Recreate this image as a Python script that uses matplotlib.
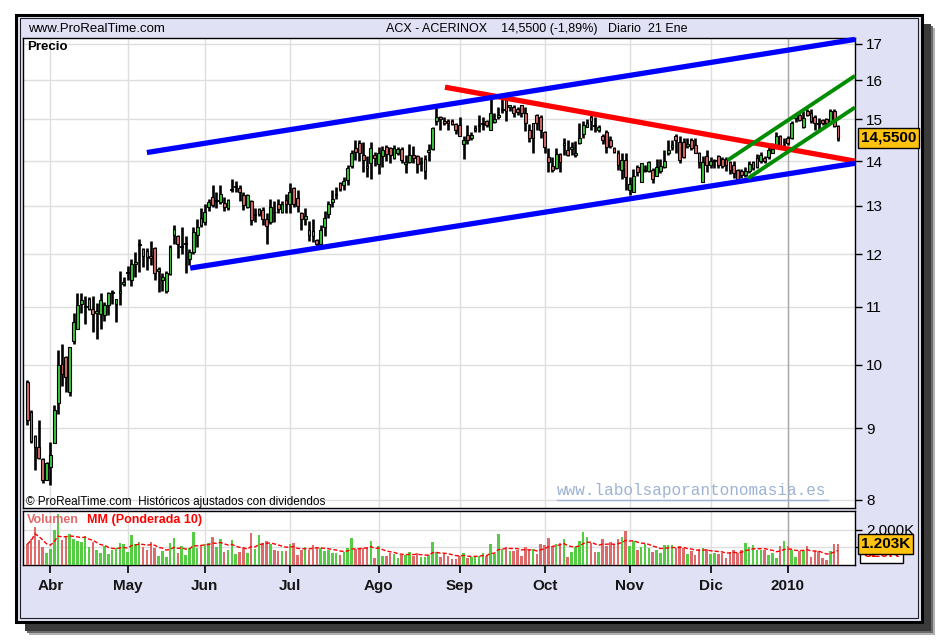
import numpy as np
import pandas as pd
import matplotlib
matplotlib.use('Agg')
import matplotlib.pyplot as plt
from matplotlib.patches import Rectangle
from matplotlib.lines import Line2D

plt.rcParams['font.family'] = ['Liberation Sans', 'DejaVu Sans']

holidays = ['2009-04-10', '2009-04-13', '2009-05-01', '2009-12-24',
            '2009-12-25', '2009-12-31', '2010-01-01']

opens = [9.72, 9.25, 8.88, 8.73, 8.55, 8.27, 8.45, 8.79, 9.38, 10.01,
         10.13, 9.55, 10.40, 10.60, 11.05, 11.00, 10.97, 10.97, 10.90, 10.88,
         10.85, 11.03, 11.25, 11.05, 11.25, 11.43, 11.63, 11.50, 11.82, 12.18,
         12.10, 12.07, 11.97, 12.12, 11.68, 11.50, 11.30, 11.62, 12.40, 12.37,
         12.15, 12.20, 11.90, 12.05, 12.40, 12.75, 12.65, 12.97, 13.20, 13.10,
         13.08, 13.06, 12.95, 13.35, 13.42, 13.40, 13.23, 12.97, 13.10, 12.80,
         12.82, 12.92, 12.73, 12.65, 12.88, 13.05, 12.88, 13.12, 13.05, 13.40,
         13.17, 12.85, 12.72, 12.50, 12.48, 12.28, 12.20, 12.55, 12.82, 13.08,
         13.23, 13.50, 13.45, 13.57, 13.88, 14.30, 14.42, 14.15, 13.88, 13.95,
         14.15, 13.94, 14.13, 14.34, 14.30, 14.07, 14.20, 14.28, 13.93, 13.97,
         14.15, 14.12, 13.95, 13.78, 14.22, 14.28, 14.95, 15.05, 14.95, 14.97,
         14.95, 14.88, 14.87, 14.40, 14.62, 14.55, 14.73, 14.84, 14.88, 14.95,
         14.75, 14.93, 15.05, 15.24, 15.50, 15.30, 15.30, 15.25, 15.35, 15.15,
         14.75, 14.55, 15.12, 15.05, 14.70, 14.10, 13.88, 13.85, 14.17, 14.38,
         14.25, 14.28, 14.15, 14.42, 14.65, 14.82, 15.05, 14.86, 14.73, 14.60,
         14.68, 14.50, 14.30, 14.18, 13.80, 14.02, 13.35, 13.30, 13.87, 13.53,
         13.77, 13.78, 13.80, 13.67, 13.77, 13.87, 14.18, 14.33, 14.60, 14.45,
         14.45, 14.35, 14.50, 14.38, 14.20, 13.53, 14.13, 13.90, 14.00, 14.12,
         14.05, 14.05, 13.97, 13.90, 13.80, 13.78, 13.68, 13.78, 13.85, 13.87,
         14.00, 14.08, 14.10, 14.20, 14.38, 14.60, 14.44, 14.55, 14.55, 15.03,
         15.12, 14.80, 15.20, 15.15, 15.05, 14.90, 14.98, 15.00, 14.90, 15.20,
         14.83]

highs = [9.75, 9.27, 8.90, 9.12, 8.57, 8.52, 8.80, 9.35, 10.25, 10.35,
         10.15, 10.30, 10.90, 11.25, 11.25, 11.20, 11.18, 11.20, 11.07, 11.25,
         11.10, 11.27, 11.32, 11.14, 11.68, 11.55, 11.78, 11.90, 12.05, 12.30,
         12.12, 12.12, 12.27, 12.14, 11.75, 11.64, 11.68, 12.18, 12.60, 12.40,
         12.55, 12.37, 12.10, 12.55, 12.72, 12.95, 13.05, 13.15, 13.45, 13.30,
         13.45, 13.20, 13.15, 13.60, 13.55, 13.45, 13.30, 13.27, 13.12, 12.95,
         12.95, 12.97, 12.85, 13.15, 13.10, 13.15, 13.10, 13.25, 13.50, 13.42,
         13.35, 12.88, 12.95, 12.68, 12.72, 12.30, 12.60, 12.90, 13.10, 13.35,
         13.42, 13.52, 13.63, 13.90, 14.25, 14.50, 14.50, 14.45, 14.13, 14.45,
         14.22, 14.33, 14.35, 14.38, 14.32, 14.38, 14.32, 14.32, 14.15, 14.40,
         14.35, 14.15, 14.10, 14.15, 14.40, 14.82, 15.30, 15.08, 15.05, 15.02,
         15.00, 14.92, 15.05, 14.60, 14.87, 14.70, 14.85, 15.10, 15.05, 14.98,
         15.55, 15.15, 15.30, 15.55, 15.60, 15.37, 15.35, 15.32, 15.37, 15.30,
         14.88, 14.92, 15.14, 15.10, 14.72, 14.30, 14.10, 14.30, 14.20, 14.55,
         14.50, 14.45, 14.48, 14.90, 14.95, 15.00, 15.10, 15.05, 14.85, 14.65,
         14.75, 14.60, 14.33, 14.25, 14.18, 14.18, 13.64, 13.83, 13.90, 13.95,
         13.92, 14.00, 13.85, 14.05, 14.05, 14.27, 14.50, 14.50, 14.65, 14.60,
         14.55, 14.55, 14.55, 14.55, 14.22, 14.12, 14.25, 14.10, 14.05, 14.15,
         14.10, 14.10, 14.00, 14.00, 13.82, 13.82, 13.87, 14.00, 14.00, 14.17,
         14.22, 14.12, 14.35, 14.42, 14.70, 14.62, 14.55, 14.60, 14.95, 15.15,
         15.18, 15.20, 15.25, 15.25, 15.12, 15.03, 15.02, 15.03, 15.25, 15.27,
         14.85]

lows = [9.05, 8.79, 8.40, 8.55, 8.22, 8.27, 8.20, 8.79, 9.22, 9.65,
        9.55, 9.50, 10.35, 10.60, 10.90, 10.70, 10.95, 10.55, 10.43, 10.60,
        10.75, 10.85, 11.05, 10.73, 11.04, 11.38, 11.50, 11.38, 11.55, 11.65,
        11.75, 11.70, 11.80, 11.50, 11.27, 11.30, 11.25, 11.60, 12.20, 11.93,
        12.00, 11.63, 11.80, 12.00, 12.15, 12.55, 12.60, 12.90, 12.97, 12.95,
        13.05, 12.90, 12.92, 13.30, 13.30, 13.10, 12.92, 12.95, 12.60, 12.65,
        12.78, 12.60, 12.20, 12.62, 12.65, 12.85, 12.85, 12.85, 12.85, 12.97,
        12.87, 12.50, 12.60, 12.27, 12.25, 12.17, 12.15, 12.37, 12.75, 12.97,
        13.15, 13.33, 13.35, 13.45, 13.85, 14.02, 14.00, 13.75, 13.63, 13.60,
        13.88, 13.70, 13.86, 14.00, 13.95, 14.05, 14.15, 13.95, 13.73, 13.95,
        13.95, 13.72, 13.77, 13.60, 14.00, 14.25, 14.85, 14.75, 14.85, 14.75,
        14.85, 14.65, 14.60, 14.05, 14.40, 14.50, 14.70, 14.70, 14.75, 14.82,
        14.75, 14.90, 15.00, 15.15, 14.95, 15.20, 15.05, 15.10, 15.05, 14.72,
        14.45, 14.20, 14.75, 14.55, 14.20, 13.75, 13.75, 13.83, 13.75, 14.15,
        14.12, 14.15, 14.10, 14.40, 14.55, 14.80, 14.73, 14.70, 14.70, 14.40,
        14.20, 14.30, 14.20, 13.80, 13.60, 13.35, 13.23, 13.30, 13.65, 13.53,
        13.75, 13.75, 13.50, 13.67, 13.72, 13.85, 14.15, 14.25, 14.20, 13.95,
        14.08, 14.30, 14.25, 14.18, 13.85, 13.53, 13.75, 13.85, 13.85, 13.85,
        13.85, 13.78, 13.70, 13.62, 13.58, 13.62, 13.64, 13.72, 13.80, 13.85,
        13.96, 13.95, 14.05, 14.18, 14.36, 14.30, 14.35, 14.38, 14.52, 14.93,
        14.95, 14.78, 15.08, 14.92, 14.75, 14.73, 14.85, 14.85, 14.88, 14.80,
        14.48]

closes = [9.12, 8.81, 8.73, 8.57, 8.27, 8.50, 8.61, 9.27, 9.99, 9.85,
          9.80, 10.30, 10.73, 11.04, 11.12, 11.00, 11.15, 10.88, 10.92, 11.12,
          11.03, 11.25, 11.28, 11.14, 11.30, 11.46, 11.66, 11.82, 11.85, 12.20,
          11.97, 11.95, 11.93, 11.63, 11.72, 11.55, 11.63, 12.15, 12.52, 12.20,
          12.17, 12.22, 12.05, 12.45, 12.55, 12.60, 12.87, 13.08, 13.02, 13.12,
          13.25, 12.98, 13.13, 13.37, 13.44, 13.30, 13.02, 13.23, 12.70, 12.82,
          12.93, 12.72, 12.57, 12.97, 12.86, 12.93, 13.05, 13.05, 13.30, 13.05,
          13.00, 12.72, 12.78, 12.38, 12.37, 12.20, 12.50, 12.75, 13.05, 13.14,
          13.27, 13.36, 13.55, 13.85, 14.18, 14.22, 14.18, 14.02, 13.85, 14.30,
          14.08, 14.19, 14.25, 14.16, 14.15, 14.30, 14.28, 14.03, 13.97, 14.15,
          14.08, 13.93, 13.97, 14.05, 14.27, 14.78, 15.05, 15.00, 14.90, 14.90,
          14.88, 14.75, 14.60, 14.50, 14.50, 14.62, 14.78, 14.86, 14.92, 14.85,
          15.15, 15.00, 15.12, 15.27, 15.20, 15.35, 15.15, 15.18, 15.15, 14.90,
          14.55, 14.90, 14.92, 14.75, 14.33, 13.98, 13.80, 14.17, 13.98, 14.42,
          14.15, 14.32, 14.20, 14.55, 14.85, 14.92, 14.95, 14.84, 14.80, 14.50,
          14.33, 14.35, 14.22, 13.90, 14.02, 13.64, 13.47, 13.65, 13.75, 13.95,
          13.80, 13.97, 13.60, 13.87, 13.88, 14.00, 14.25, 14.37, 14.50, 14.03,
          14.10, 14.40, 14.30, 14.18, 13.98, 13.98, 13.90, 14.00, 14.01, 13.90,
          13.88, 13.90, 13.80, 13.72, 13.60, 13.68, 13.78, 13.94, 13.97, 14.07,
          14.15, 14.00, 14.26, 14.28, 14.60, 14.37, 14.46, 14.42, 14.92, 15.12,
          14.98, 15.03, 15.10, 14.95, 14.90, 14.88, 14.90, 14.92, 15.20, 14.83,
          14.55]

# volume in thousands of shares
volumes = [1181, 1467, 2153, 1391, 1010, 667, 895, 2000, 2896, 1391,
           1562, 1753, 1467, 1334, 1276, 1657, 1010, 1276, 857, 705,
           1086, 610, 819, 953, 1257, 1200, 762, 1715, 1200, 1276,
           1010, 819, 1314, 953, 514, 800, 438, 1257, 1524, 705,
           1086, 572, 953, 1867, 953, 1143, 1200, 1257, 1600, 1010,
           1467, 762, 857, 1391, 629, 762, 953, 667, 1829, 895,
           1715, 1238, 1353, 1200, 857, 800, 800, 800, 1181, 1257,
           572, 838, 1010, 857, 1143, 1010, 953, 800, 857, 705,
           705, 572, 724, 953, 1524, 876, 953, 953, 991, 1334,
           381, 1048, 495, 514, 667, 629, 381, 572, 572, 762,
           533, 705, 457, 457, 572, 1295, 740, 438, 610, 514,
           324, 324, 514, 667, 419, 476, 533, 533, 667, 514,
           1181, 610, 1753, 876, 1010, 800, 800, 857, 495, 991,
           857, 895, 610, 1181, 1143, 1524, 1010, 1200, 1257, 1467,
           476, 762, 991, 1353, 1867, 1581, 1238, 724, 724, 1467,
           1086, 1276, 1105, 1448, 1562, 1943, 1048, 1334, 857, 1010,
           1181, 953, 762, 857, 705, 1143, 1105, 1105, 953, 1048,
           953, 610, 800, 572, 895, 953, 895, 648, 705, 648,
           705, 381, 762, 857, 705, 819, 1238, 991, 1105, 857,
           857, 857, 572, 705, 419, 1048, 1334, 1048, 819, 476,
           800, 800, 1048, 476, 800, 800, 419, 286, 800, 1181,
           1203]

# hand-drawn trend lines: (start index, start price, end index, end price)
channel_top = [31.0, 14.20, 214.4, 17.12]
channel_bottom = [42.2, 11.73, 214.4, 13.95]
red_trend = [108.2, 15.82, 214.4, 14.00]
green_top = [181.4, 14.02, 214.4, 16.12]
green_bottom = [186.7, 13.61, 214.4, 15.30]

month_names = ['Ene', 'Feb', 'Mar', 'Abr', 'May', 'Jun', 'Jul', 'Ago',
               'Sep', 'Oct', 'Nov', 'Dic']
price_ticks = [8, 9, 10, 11, 12, 13, 14, 15, 16, 17]

# ---- derived ----
o = np.array(opens); h = np.array(highs); l = np.array(lows); c = np.array(closes)
v = np.array(volumes, dtype=float)
n = len(c)
idx = np.arange(n)
dates = pd.bdate_range('2009-03-24', periods=n, freq='C', holidays=holidays)

month_idx, month_lbl = [], []
for i in range(1, n):
    if dates[i].month != dates[i - 1].month:
        month_idx.append(i)
        month_lbl.append(str(dates[i].year) if dates[i].month == 1 else month_names[dates[i].month - 1])

h = np.maximum(h, np.maximum(o, c))
l = np.minimum(l, np.minimum(o, c))
up = c >= o

# weighted moving average (10)
wma = np.empty(n)
for i in range(n):
    win = v[max(0, i - 9):i + 1]
    w = np.arange(1, len(win) + 1)
    wma[i] = (win * w).sum() / w.sum()

GREEN = '#3CC83C'
RED = '#D86A6A'
VGREEN = '#55CC44'
VRED = '#DD6B6B'
LAV = '#E1E1F5'

W, H = 940, 640
fig = plt.figure(figsize=(9.4, 6.4), dpi=100)
fig.patch.set_facecolor('white')

def fx(x):
    return x / W

def fy(y):
    return 1 - y / H

# shadow and frame
for off, col in [(13, '#B0B0B0'), (11, '#6A6A6A'), (9, '#3A3A3A')]:
    fig.add_artist(Rectangle((fx(16 + off), fy(622 + off)), fx(906), 607 / H,
                             transform=fig.transFigure, facecolor=col, edgecolor='none', zorder=0))
fig.add_artist(Rectangle((fx(16), fy(622)), fx(906), 607 / H, transform=fig.transFigure,
                         facecolor=LAV, edgecolor='black', lw=2.2, zorder=1))
fig.add_artist(Rectangle((fx(20), fy(618)), fx(898), 600 / H, transform=fig.transFigure,
                         facecolor='none', edgecolor='#202020', lw=0.8, zorder=1))

ax = fig.add_axes([fx(23), fy(508), fx(832), 470 / H])
axv = fig.add_axes([fx(23), fy(565), fx(832), 54 / H], sharex=ax)
for a in (ax, axv):
    a.set_facecolor('white')
    a.set_zorder(2)
    for s in a.spines.values():
        s.set_color('black')
        s.set_linewidth(1.0)

# ---- price panel ----
ax.set_yscale('log')
ax.set_ylim(7.89, 17.16)
ax.set_xlim(-1.1, 214.4)
ax.set_yticks(price_ticks)
ax.set_yticklabels([str(t) for t in price_ticks])
ax.yaxis.set_minor_locator(matplotlib.ticker.NullLocator())
ax.yaxis.tick_right()
ax.tick_params(axis='y', which='major', direction='out', length=5, width=1,
               labelsize=11, pad=3, colors='black')
ax.set_xticks(month_idx)
ax.tick_params(axis='x', length=0, labelbottom=False)
ax.grid(True, color='#DEDEDE', lw=1.0)
ax.set_axisbelow(True)
for i, lbl in zip(month_idx, month_lbl):
    if lbl.isdigit():
        ax.axvline(i, color='#A8A8A8', lw=1.0, zorder=1)
        axv.axvline(i, color='#A8A8A8', lw=1.0, zorder=1)

ax.vlines(idx, l, h, color='black', lw=1.9, zorder=3)
body_lo = np.minimum(o, c)
body_h = np.maximum(np.abs(c - o), 0.015)
ax.bar(idx, body_h, bottom=body_lo, width=0.72,
       color=np.where(up, GREEN, RED), edgecolor='black', lw=0.8, zorder=4)

for seg, col, lw in [(red_trend, '#FF0000', 3.8), (channel_top, '#0000FF', 3.8),
                     (channel_bottom, '#0000FF', 3.8), (green_top, '#008C00', 2.8),
                     (green_bottom, '#008C00', 2.8)]:
    ax.plot([seg[0], seg[2]], [seg[1], seg[3]], color=col, lw=lw,
            solid_capstyle='butt', zorder=5, clip_on=False)

# ---- volume panel ----
axv.bar(idx, v, width=0.66, color=np.where(up, VGREEN, VRED), edgecolor='none', zorder=3)
axv.plot(idx, wma, color='#FF0000', lw=1.0, ls=(0, (3, 1.5)), zorder=4)
axv.set_ylim(0, 3050)
axv.set_yticks([1000, 2000])
axv.set_yticklabels(['', '2.000K'])
axv.yaxis.tick_right()
axv.tick_params(axis='y', direction='out', length=5, width=1, labelsize=11, pad=3)
axv.grid(True, color='#DEDEDE', lw=1.0)
axv.set_axisbelow(True)
axv.set_xticks(month_idx)
axv.set_xticklabels(month_lbl, fontweight='bold', fontsize=11, color='#151515')
axv.tick_params(axis='x', direction='out', length=6, width=1.2, pad=4)

# ---- texts ----
last = closes[-1]
chg = (closes[-1] / closes[-2] - 1) * 100
price_txt = f'{last:.4f}'.replace('.', ',')
chg_txt = f'{chg:+.2f}'.replace('.', ',').replace('+', '')
date_txt = f'{dates[-1].day} {month_names[dates[-1].month - 1]}'

fig.text(fx(28), fy(29), 'www.ProRealTime.com', fontsize=9.5, va='center', zorder=5)
fig.text(fx(537), fy(29), f'ACX - ACERINOX    {price_txt} ({chg_txt}%)   Diario  {date_txt}',
         fontsize=9, va='center', ha='center', zorder=5)
fig.text(fx(27), fy(47), 'Precio', fontsize=9.5, fontweight='bold', va='center', zorder=5)
fig.text(fx(26), fy(502), '\u00a9 ProRealTime.com  Históricos ajustados con dividendos',
         fontsize=8.5, va='center', zorder=5)
fig.text(fx(557), fy(491), 'www.labolsaporantonomasia.es', family='Liberation Mono',
         fontsize=11.5, color='#9DB3D3', va='center', zorder=5)
fig.add_artist(Line2D([fx(557), fx(828)], [fy(500), fy(500)], color='#9DB3D3', lw=1.0,
                      transform=fig.transFigure, zorder=5))
fig.text(fx(27), fy(520), 'Volumen', fontsize=9, fontweight='bold', color='#E06A6A',
         va='center', zorder=5)
fig.text(fx(87), fy(520), 'MM (Ponderada 10)', fontsize=9, fontweight='bold', color='#FF0000',
         va='center', zorder=5)

def kfmt(x):
    return f'{x:,.0f}'.replace(',', '.') + 'K'

ax.annotate(price_txt, xy=(1.0, last), xycoords=('axes fraction', 'data'),
            xytext=(4, 0), textcoords='offset points', va='center', ha='left',
            fontsize=11, fontweight='bold', color='black', annotation_clip=False,
            bbox=dict(boxstyle='square,pad=0.2', fc='#FFC20E', ec='black', lw=1), zorder=10)
axv.annotate(kfmt(wma[-1]), xy=(1.0, wma[-1]), xycoords=('axes fraction', 'data'),
             xytext=(6, -2), textcoords='offset points', va='center', ha='left',
             fontsize=11, fontweight='bold', color='#FF0000', annotation_clip=False,
             bbox=dict(boxstyle='square,pad=0.2', fc='white', ec='black', lw=1), zorder=9)
axv.annotate(kfmt(v[-1]), xy=(1.0, v[-1]), xycoords=('axes fraction', 'data'),
             xytext=(4, 0), textcoords='offset points', va='center', ha='left',
             fontsize=11, fontweight='bold', color='black', annotation_clip=False,
             bbox=dict(boxstyle='square,pad=0.2', fc='#FFC20E', ec='black', lw=1), zorder=10)

fig.savefig('out.png', dpi=100)
